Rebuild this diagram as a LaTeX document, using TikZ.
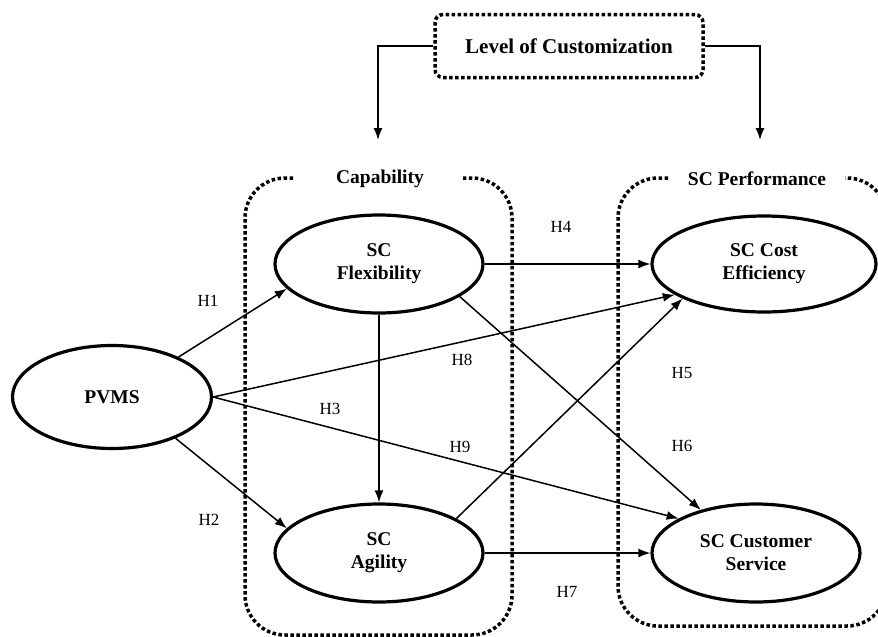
\documentclass[tikz,border=0pt]{standalone}
\usepackage{fontspec}
\setmainfont{Liberation Serif}
\usetikzlibrary{shapes.geometric,arrows.meta}

\begin{document}
\begin{tikzpicture}[%
    x=1pt,y=-1pt,->,>={Latex[length=12pt,width=9pt]},line width=1.5pt,
    construct/.style={%
      ellipse,draw,line width=3.2pt,inner sep=0pt,minimum width=208pt,
      minimum height=98pt,align=center,font=\fontsize{19.5}{23}\selectfont\bfseries},
    levelbox/.style={%
      draw,line width=3.5pt,dash pattern=on 3.5pt off 2.5pt,rounded corners=8pt,
      minimum width=268pt,minimum height=63pt,font=\fontsize{21}{25}\selectfont\bfseries},
    groupline/.style={-,line width=3.5pt,dash pattern=on 3.5pt off 2.5pt,rounded corners=40pt},
    grouplabel/.style={font=\fontsize{19.5}{23}\selectfont\bfseries},
    hyp/.style={font=\fontsize{17}{20}\selectfont}
  ]
    \useasboundingbox (0,0) rectangle (878,637);

    % moderator
    \node[levelbox] (level) at (569,46) {Level of Customization};
    \coordinate (capin) at (378,140);
    \coordinate (perfin) at (760,140);
    \draw (level.west) -| (capin);
    \draw (level.east) -| (perfin);

    % groups
    \node[grouplabel] (capability) at (380,179) {Capability};
    \node[grouplabel] (scperf) at (757,179) {SC Performance};
    \draw[groupline] (293,178) -- (245,178) -- (245,635) -- (512,635) -- (512,178) -- (463,178);
    \draw[groupline] (668,178) -- (618,178) -- (618,626) -- (887,626) -- (887,178) -- (845,178);

    % constructs
    \node[construct,minimum width=199pt,minimum height=103pt] (pvms) at (112,397) {PVMS};
    \node[construct] (flex) at (379,264) {SC\\Flexibility};
    \node[construct] (agil) at (379,553) {SC\\Agility};
    \node[construct,minimum width=224pt,minimum height=96pt] (cost) at (764,264) {SC Cost\\Efficiency};
    \node[construct] (serv) at (756,553) {SC Customer\\Service};

    % hypotheses
    \draw (pvms.31.6) -- (flex.195.5);
    \draw (pvms.-33.5) -- (agil.165);
    \draw (flex.south) -- (agil.north);
    \draw (flex.east) -- (cost.west);
    \draw (agil.24.7) -- (cost.203);
    \draw (flex.338) -- (serv.142);
    \draw (agil.east) -- (serv.west);
    \draw (pvms.east) -- (cost.199);
    \draw (pvms.east) -- (serv.156.5);

    \node[hyp] (h1) at (208,301) {H1};
    \node[hyp] (h2) at (209,520) {H2};
    \node[hyp] (h3) at (330,409) {H3};
    \node[hyp] (h4) at (561,227) {H4};
    \node[hyp] (h5) at (682,373) {H5};
    \node[hyp] (h6) at (682,446) {H6};
    \node[hyp] (h7) at (567,592) {H7};
    \node[hyp] (h8) at (462,360) {H8};
    \node[hyp] (h9) at (460,447) {H9};
\end{tikzpicture}
\end{document}
